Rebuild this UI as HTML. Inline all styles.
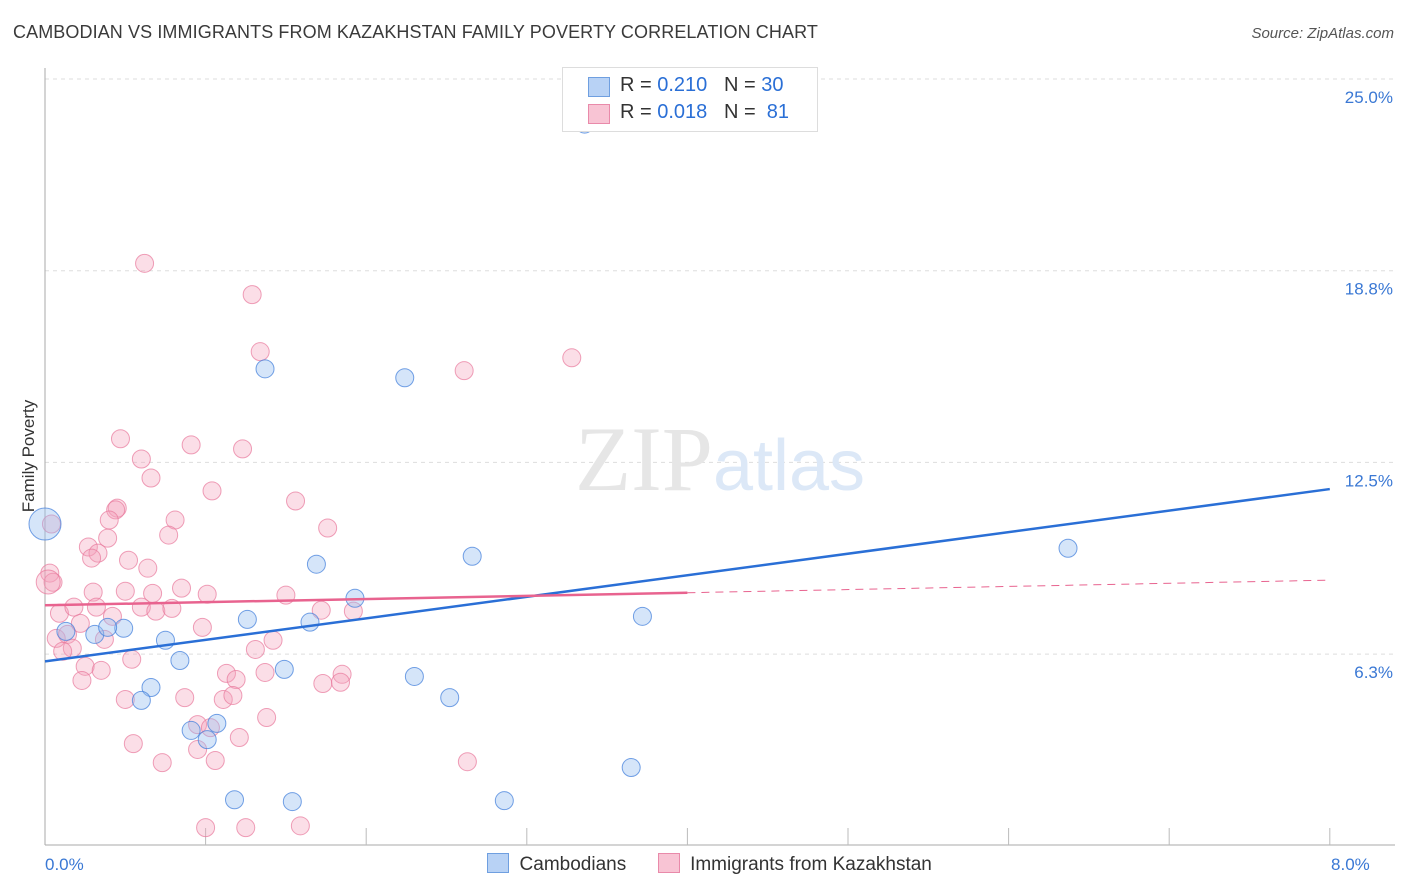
<!DOCTYPE html>
<html><head><meta charset="utf-8"><style>
body{margin:0;background:#fff;font-family:"Liberation Sans",sans-serif}
#wrap{position:relative;width:1406px;height:892px;overflow:hidden}
</style></head><body>
<div id="wrap">
<div style="position:absolute;left:13px;top:22px;font-size:18px;color:#3a3a3a;letter-spacing:0.1px">CAMBODIAN VS IMMIGRANTS FROM KAZAKHSTAN FAMILY POVERTY CORRELATION CHART</div>
<div style="position:absolute;right:12px;top:25px;font-size:15px;color:#555;font-style:italic">Source: ZipAtlas.com</div>
<svg id="chart" width="1406" height="892" style="position:absolute;left:0;top:0"></svg>
</div>
<script>
const xTicks=[0,8];
const xTickLabels=["0.0%","8.0%"];
const yTicks=[25,18.75,12.5,6.25];
const yTickLabels=["25.0%","18.8%","12.5%","6.3%"];
const blueX=[3.36,1.37,2.24,6.37,2.66,1.69,1.93,3.72,1.26,1.65,0.49,0.13,0.31,0.75,0.84,1.49,2.30,0.66,2.52,0.60,1.07,0.91,1.01,3.65,1.18,1.54,2.86,0.39];
const blueY=[23.53,15.55,15.26,9.70,9.44,9.18,8.07,7.48,7.38,7.29,7.09,6.99,6.89,6.70,6.04,5.75,5.52,5.16,4.83,4.74,3.99,3.76,3.46,2.55,1.50,1.44,1.47,7.12];
const pinkX=[0.47,0.91,1.23,0.60,0.66,1.04,1.56,0.45,0.44,0.40,0.81,0.77,1.76,0.39,0.27,0.33,0.29,0.52,0.64,0.03,0.05,0.30,0.50,0.67,0.85,1.01,1.50,0.09,0.18,0.32,0.42,0.60,0.69,0.79,0.22,0.98,1.72,1.92,0.07,0.14,0.17,0.11,0.37,1.42,1.31,0.54,0.25,0.35,0.23,1.13,1.19,1.37,1.85,1.73,1.84,0.50,0.87,1.11,1.17,1.38,0.95,1.03,0.55,1.21,0.95,0.73,1.06,1.00,1.25,1.59,0.62,1.29,1.34,2.61,3.28,2.63,0.04];
const pinkY=[13.27,13.07,12.94,12.61,11.99,11.57,11.24,11.01,10.95,10.62,10.62,10.13,10.36,10.03,9.74,9.54,9.38,9.31,9.05,8.89,8.59,8.27,8.30,8.23,8.40,8.20,8.17,7.58,7.78,7.78,7.48,7.78,7.65,7.74,7.25,7.12,7.68,7.65,6.76,6.89,6.44,6.34,6.73,6.70,6.40,6.08,5.85,5.72,5.39,5.62,5.42,5.65,5.59,5.29,5.33,4.77,4.83,4.77,4.90,4.18,3.95,3.85,3.33,3.53,3.14,2.71,2.78,0.59,0.59,0.65,18.99,17.97,16.11,15.49,15.91,2.74,10.49];
const bigBlue=[0.0,10.49];
const bigPink=[0.02,8.6];
const blueTrend=[6.01,11.63];
const pinkTrend=[7.84,8.66];
const pinkSolidEnd=4.0;
const NS="http://www.w3.org/2000/svg";
const svg=document.getElementById('chart');
const X=v=>45+v*160.6;
const Y=v=>79+(25-v)*30.67;
function mk(t,a){const e=document.createElementNS(NS,t);for(const k in a)e.setAttribute(k,a[k]);svg.appendChild(e);return e;}
yTicks.forEach((t,i)=>{
 const g=mk('line',{x1:45,x2:1395,y1:Y(t),y2:Y(t),stroke:'#ddd','stroke-dasharray':'4,4'});
 
 
 const l=mk('text',{x:1393,y:Y(t)+24,'text-anchor':'end','font-size':17,fill:'#3a78d4','font-family':'Liberation Sans'});
 l.textContent=yTickLabels[i];
 
 
});
const ax=mk('line',{x1:45,x2:45,y1:68,y2:845,stroke:'#aaa'});


const bx=mk('line',{x1:45,x2:1395,y1:845,y2:845,stroke:'#aaa'});


for(let i=1;i<=8;i++){
 const t=mk('line',{x1:X(i),x2:X(i),y1:828,y2:845,stroke:'#bbb'});
 
 
}
xTicks.forEach((t,i)=>{
 const l=mk('text',{x:X(t)+(i==0?0:40),y:870,'text-anchor':i==0?'start':'end','font-size':17,fill:'#3a78d4','font-family':'Liberation Sans'});
 l.textContent=xTickLabels[i];
 
 
});
const yt=mk('text',{x:34,y:456,'text-anchor':'middle','font-size':17,fill:'#333',transform:'rotate(-90 34 456)','font-family':'Liberation Sans'});
yt.textContent='Family Poverty';


const wm=mk('text',{x:720,y:490,'text-anchor':'middle','font-size':92,fill:'#e6e6e6','font-family':'Liberation Serif'});
wm.innerHTML='ZIP<tspan fill="#dce8f7" font-family="Liberation Sans" font-size="72">atlas</tspan>';


pinkX.forEach((x,i)=>{
 const c=mk('circle',{cx:X(x),cy:Y(pinkY[i]),r:9,fill:'rgba(244,160,185,0.35)',stroke:'rgba(232,120,155,0.7)','stroke-width':1});
 
 
});
blueX.forEach((x,i)=>{
 const c=mk('circle',{cx:X(x),cy:Y(blueY[i]),r:9,fill:'rgba(150,190,240,0.4)',stroke:'rgba(70,130,220,0.75)','stroke-width':1});
 
 
});
const bb=mk('circle',{cx:X(bigBlue[0]),cy:Y(bigBlue[1]),r:16,fill:'rgba(150,190,240,0.4)',stroke:'rgba(70,130,220,0.75)'});


const bp=mk('circle',{cx:X(bigPink[0]),cy:Y(bigPink[1]),r:12,fill:'rgba(244,160,185,0.35)',stroke:'rgba(232,120,155,0.7)'});


const pt=v=>pinkTrend[0]+(pinkTrend[1]-pinkTrend[0])*v/8;
const bl=mk('line',{x1:X(0),y1:Y(blueTrend[0]),x2:X(8),y2:Y(blueTrend[1]),stroke:'#2a6fd6','stroke-width':2.5});


const pl=mk('line',{x1:X(0),y1:Y(pt(0)),x2:X(pinkSolidEnd),y2:Y(pt(pinkSolidEnd)),stroke:'#e8638f','stroke-width':2.5});


const pd=mk('line',{x1:X(pinkSolidEnd),y1:Y(pt(pinkSolidEnd)),x2:X(8),y2:Y(pt(8)),stroke:'#e8638f','stroke-width':1,'stroke-dasharray':'8,6'});


</script>
<div style="position:absolute;left:562px;top:67px;width:254px;height:63px;border:1px solid #ddd;background:#fff;font-size:20px;color:#333">
 <div style="position:absolute;left:25px;top:9px;width:20px;height:18px;background:#b8d2f5;border:1px solid #6f9fe0"></div>
 <div style="position:absolute;left:57px;top:6px">R = <span style="color:#2a6fd6">0.210</span>&nbsp;&nbsp;&nbsp;N = <span style="color:#2a6fd6">30</span></div>
 <div style="position:absolute;left:25px;top:36px;width:20px;height:18px;background:#f8c4d4;border:1px solid #e98aaa"></div>
 <div style="position:absolute;left:57px;top:33px">R = <span style="color:#2a6fd6">0.018</span>&nbsp;&nbsp;&nbsp;N = &nbsp;<span style="color:#2a6fd6">81</span></div>
</div>
<div style="position:absolute;left:487px;top:853px;font-size:19px;color:#333;white-space:nowrap">
 <span><span style="display:inline-block;width:20px;height:18px;background:#b8d2f5;border:1px solid #6f9fe0;vertical-align:-3px"></span>&nbsp; Cambodians</span>
 <span style="margin-left:26px"><span style="display:inline-block;width:20px;height:18px;background:#f8c4d4;border:1px solid #e98aaa;vertical-align:-3px"></span>&nbsp; Immigrants from Kazakhstan</span>
</div>
</body></html>
